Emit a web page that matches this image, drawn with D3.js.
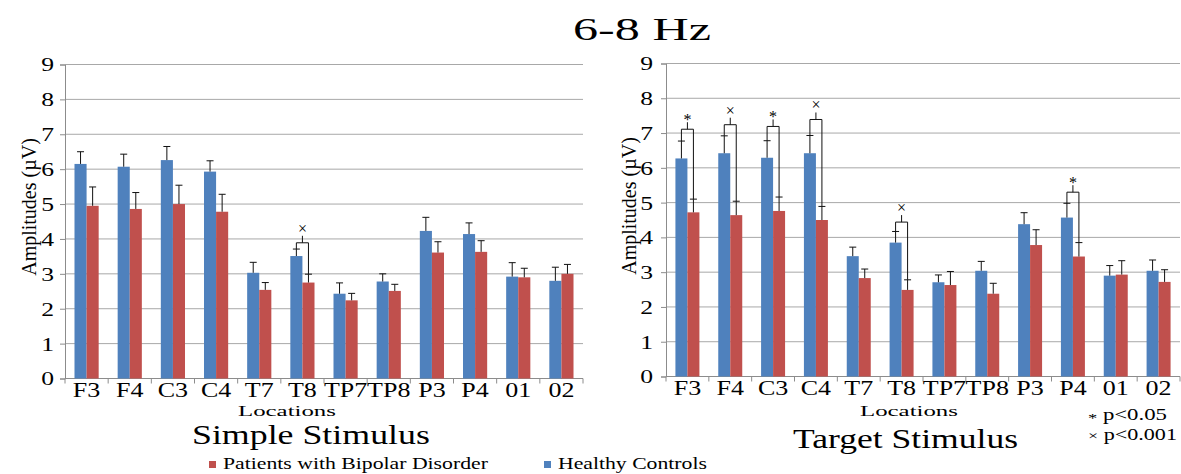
<!DOCTYPE html>
<html>
<head>
<meta charset="utf-8">
<script src="https://cdn.jsdelivr.net/npm/d3@7"></script>
<style>
  body { margin: 0; background: #fff; }
  svg { display: block; font-family: "Liberation Serif", "Times New Roman", serif; }
  svg text { font-family: "Liberation Serif", "Times New Roman", serif; fill: #000; }
</style>
</head>
<body>
<svg id="chart" width="1181" height="474"></svg>
<script>
// Electrode locations on the x axis
const categories = ["F3", "F4", "C3", "C4", "T7", "T8", "TP7", "TP8", "P3", "P4", "01", "02"];
const yTicks = [0, 1, 2, 3, 4, 5, 6, 7, 8, 9];

// Simple stimulus: mean amplitudes (µV) and standard errors
const simpleHealthy    = [6.15, 6.07, 6.26, 5.93, 3.03, 3.51, 2.43, 2.78, 4.23, 4.14, 2.92, 2.80];
const simpleHealthyErr = [0.35, 0.36, 0.39, 0.31, 0.30, 0.20, 0.31, 0.22, 0.39, 0.32, 0.40, 0.39];
const simpleBipolar    = [4.95, 4.86, 5.00, 4.78, 2.54, 2.75, 2.24, 2.51, 3.61, 3.63, 2.90, 3.00];
const simpleBipolarErr = [0.54, 0.47, 0.54, 0.50, 0.21, 0.24, 0.20, 0.19, 0.31, 0.32, 0.26, 0.27];

// Target stimulus: mean amplitudes (µV) and standard errors
const targetHealthy    = [6.27, 6.42, 6.29, 6.42, 3.46, 3.85, 2.71, 3.04, 4.38, 4.57, 2.90, 3.04];
const targetHealthyErr = [0.50, 0.50, 0.49, 0.51, 0.26, 0.32, 0.21, 0.27, 0.33, 0.41, 0.29, 0.31];
const targetBipolar    = [4.72, 4.64, 4.76, 4.50, 2.83, 2.49, 2.63, 2.38, 3.78, 3.45, 2.93, 2.72];
const targetBipolarErr = [0.38, 0.40, 0.40, 0.39, 0.26, 0.29, 0.39, 0.30, 0.44, 0.40, 0.40, 0.35];

// Significant group differences: location, marker, bracket level (µV)
const simpleSig = [{ loc: "T8", mark: "×", level: 3.89 }];
const targetSig = [
  { loc: "F3", mark: "*", level: 7.11 },
  { loc: "F4", mark: "×", level: 7.24 },
  { loc: "C3", mark: "*", level: 7.19 },
  { loc: "C4", mark: "×", level: 7.39 },
  { loc: "T8", mark: "×", level: 4.44 },
  { loc: "P4", mark: "*", level: 5.30 }
];

const seriesNames = ["Patients with Bipolar Disorder", "Healthy Controls"];
const colors = { healthy: "#4f81bd", bipolar: "#c0504d" };
const gridColor = "#a8a8a8";
const axisColor = "#8c8c8c";
const serif = "Liberation Serif, Times New Roman, serif";

const svg = d3.select("#chart");

// Place a text element and stretch it horizontally to a given width
function fitText(sel, x, y, width) {
  const w = sel.node().getComputedTextLength();
  sel.attr("transform", `translate(${x},${y}) scale(${width / w},1)`);
  return sel;
}

function drawPanel(p) {
  const g = svg.append("g");
  const x = d3.scaleBand().domain(categories).range([p.left, p.right])
    .paddingInner(0.44).paddingOuter(0.22);
  const sub = d3.scaleBand().domain(["healthy", "bipolar"]).range([0, x.bandwidth()]);
  const y = d3.scaleLinear().domain([0, 9]).range([p.bottom, p.top]);

  // horizontal gridlines
  g.selectAll("line.grid").data(yTicks.filter(d => d > 0)).join("line")
    .attr("x1", p.left).attr("x2", p.right)
    .attr("y1", d => y(d)).attr("y2", d => y(d))
    .attr("stroke", gridColor).attr("stroke-width", 1);

  // y axis with outward ticks
  const yAxis = g.append("g").attr("transform", `translate(${p.left},0)`)
    .call(d3.axisLeft(y).tickValues(yTicks).tickSize(5).tickFormat(d3.format("d")))
    .attr("font-family", serif);
  yAxis.select(".domain").attr("stroke", axisColor);
  yAxis.selectAll(".tick line").attr("stroke", axisColor);
  const ys = 1.35;
  yAxis.selectAll(".tick text")
    .attr("font-family", serif)
    .attr("font-size", 19)
    .attr("x", -p.numGap / ys)
    .attr("dy", "0.34em")
    .attr("transform", `scale(${ys},1)`);

  // x axis baseline and category boundary ticks
  g.append("line").attr("x1", p.left).attr("x2", p.right)
    .attr("y1", y(0)).attr("y2", y(0)).attr("stroke", axisColor);
  const bounds = d3.range(categories.length + 1).map(i => p.left + i * x.step());
  g.selectAll("line.xtick").data(bounds).join("line")
    .attr("x1", d => d).attr("x2", d => d)
    .attr("y1", y(0)).attr("y2", y(0) + 5)
    .attr("stroke", axisColor);

  // category labels
  categories.forEach(c => {
    const t = g.append("text").attr("font-size", 20).attr("text-anchor", "middle").text(c);
    t.attr("transform", `translate(${x(c) + x.bandwidth() / 2},${p.labelY}) scale(1.3,1)`);
  });

  // bars
  const rows = categories.map((c, i) => ({
    c,
    healthy: p.healthy[i], healthyErr: p.healthyErr[i],
    bipolar: p.bipolar[i], bipolarErr: p.bipolarErr[i]
  }));
  ["healthy", "bipolar"].forEach(k => {
    g.selectAll(`rect.${k}`).data(rows).join("rect")
      .attr("x", d => x(d.c) + sub(k))
      .attr("width", sub.bandwidth())
      .attr("y", d => y(d[k]))
      .attr("height", d => y(0) - y(d[k]))
      .attr("fill", colors[k]);
  });

  // error bars (upper half)
  const cap = 3.5;
  ["healthy", "bipolar"].forEach(k => {
    rows.forEach(d => {
      const cx = x(d.c) + sub(k) + sub.bandwidth() / 2;
      const yv = y(d[k]), ye = y(d[k] + d[k + "Err"]);
      g.append("path")
        .attr("d", `M${cx},${yv}V${ye}M${cx - cap},${ye}H${cx + cap}`)
        .attr("stroke", "#111").attr("stroke-width", 1).attr("fill", "none");
    });
  });

  // significance brackets
  p.sig.forEach(s => {
    const i = categories.indexOf(s.loc);
    const xb = x(s.loc) + sub("healthy") + sub.bandwidth() / 2;
    const xr = x(s.loc) + sub("bipolar") + sub.bandwidth() / 2;
    const xm = (xb + xr) / 2;
    const yl = y(s.level);
    const yh = y(p.healthy[i] + p.healthyErr[i]);
    const yr = y(p.bipolar[i] + p.bipolarErr[i]);
    g.append("path")
      .attr("d", `M${xb},${yh}V${yl}H${xr}V${yr}M${xm},${yl}V${yl - 7}`)
      .attr("stroke", "#111").attr("stroke-width", 1).attr("fill", "none");
    g.append("text").attr("x", xm).attr("y", s.mark === "*" ? yl - 4 : yl - 9)
      .attr("text-anchor", "middle").attr("font-size", 16).text(s.mark);
  });

  // axis titles
  g.append("text").attr("font-size", 20).attr("text-anchor", "middle")
    .attr("transform", `translate(${p.yLabelX},${p.yLabelY}) rotate(-90)`)
    .text("Amplitudes (µV)");
  fitText(g.append("text").attr("font-size", 15).text("Locations"),
    p.locX, 416, 98);
  fitText(g.append("text").attr("font-size", 28).text(p.title),
    p.titleX, p.titleY, p.titleW);
}

drawPanel({
  left: 65, right: 583, top: 64.5, bottom: 378.5,
  healthy: simpleHealthy, healthyErr: simpleHealthyErr,
  bipolar: simpleBipolar, bipolarErr: simpleBipolarErr,
  sig: simpleSig, numGap: 11, labelY: 397,
  yLabelX: 36, yLabelY: 207, locX: 238,
  title: "Simple Stimulus", titleX: 192, titleY: 444, titleW: 238
});

drawPanel({
  left: 666, right: 1180, top: 63.5, bottom: 376.5,
  healthy: targetHealthy, healthyErr: targetHealthyErr,
  bipolar: targetBipolar, bipolarErr: targetBipolarErr,
  sig: targetSig, numGap: 13, labelY: 395,
  yLabelX: 636, yLabelY: 206, locX: 860,
  title: "Target Stimulus", titleX: 793, titleY: 448, titleW: 225
});

// main title
fitText(svg.append("text").attr("font-size", 31).text("6-8 Hz"), 573, 40, 138);

// significance key
const key1 = svg.append("text").attr("font-size", 16);
key1.append("tspan").attr("font-size", 13).attr("dy", "0.15em").text("*");
key1.append("tspan").attr("dy", "-0.15em").text(" p<0.05");
fitText(key1, 1088, 420, 79);
const key2 = svg.append("text").attr("font-size", 16);
key2.append("tspan").attr("font-size", 13).text("×");
key2.append("tspan").text(" p<0.001");
fitText(key2, 1088, 440, 89);

// legend
const legendItems = [
  { name: seriesNames[0], color: colors.bipolar, x: 209, w: 265 },
  { name: seriesNames[1], color: colors.healthy, x: 544, w: 149 }
];
legendItems.forEach(d => {
  svg.append("rect").attr("x", d.x).attr("y", 461).attr("width", 7).attr("height", 7)
    .attr("fill", d.color);
  fitText(svg.append("text").attr("font-size", 16).text(d.name), d.x + 14, 469, d.w);
});
</script>
</body>
</html>
